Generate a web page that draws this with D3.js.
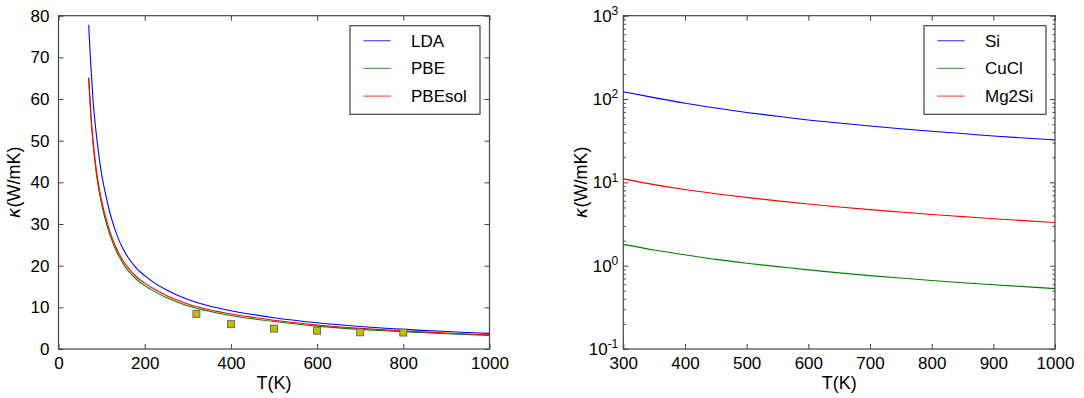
<!DOCTYPE html>
<html><head><meta charset="utf-8">
<script src="https://cdn.jsdelivr.net/npm/d3@7"></script>
<style>
body{margin:0;background:#fff;}
svg{display:block;font-family:"Liberation Sans",Arial,sans-serif;}
</style></head><body>
<svg id="c" width="1084" height="398"></svg>
<script>
// ---------- data: left panel (Si, functionals) ----------
const tempsA   = [70,75,80,85,90,100,110,120,130,140,150,160,180,200,225,250,275,300,350,400,450,500,600,700,800,900,1000];
const kappaLDA = [77.8,68,60,54.2,49.5,42,36.8,32.4,29.0,26.2,24.0,22.2,19.5,17.6,15.7,14.2,12.95,11.9,10.3,9.2,8.3,7.5,6.3,5.4,4.7,4.2,3.75];
const kappaPBE = [65,56,49.5,44.5,40.5,34.8,30.6,27.2,24.5,22.3,20.5,19.0,16.8,15.2,13.65,12.35,11.3,10.4,9.05,8.05,7.25,6.6,5.5,4.72,4.13,3.67,3.25];
const kappaPBEsol = [65.2,56.5,50.2,45.3,41.3,35.6,31.4,28.0,25.2,23.0,21.2,19.7,17.4,15.8,14.2,12.85,11.75,10.8,9.4,8.4,7.6,6.9,5.75,4.95,4.33,3.85,3.4];
const expT     = [320,400,500,600,700,800];
const expKappa = [8.4,5.95,4.9,4.4,4.0,3.95];
const seriesA  = ["LDA","PBE","PBEsol"];
const xTicksA  = [0,200,400,600,800,1000];
const yTicksA  = [0,10,20,30,40,50,60,70,80];

// ---------- data: right panel (materials, log scale) ----------
const tempsB     = [300,350,400,450,500,550,600,650,700,750,800,850,900,950,1000];
const kappaSi    = [122,104,89,78,69,62,56,51.5,47.5,44,41,38.5,36,34,32.3];
const kappaCuCl  = [1.80,1.54,1.35,1.19,1.07,0.975,0.89,0.82,0.76,0.71,0.665,0.625,0.59,0.56,0.53];
const kappaMg2Si = [11.0,9.4,8.2,7.3,6.6,6.0,5.5,5.07,4.7,4.4,4.12,3.88,3.66,3.47,3.3];
const seriesB    = ["Si","CuCl","Mg2Si"];
const xTicksB    = [300,400,500,600,700,800,900,1000];
const yDecadesB  = [-1,0,1,2,3];

const colors = ["#0000ff","#008000","#ff0000"];
const frameColor = "#444";
const svg = d3.select("#c");

function panel(o){
  const g = svg.append("g");
  const x = o.x, y = o.y;
  const [L,R] = x.range(), [B,T] = y.range();
  const line = d3.line().x(d=>x(d[0])).y(d=>y(d[1])).curve(d3.curveMonotoneX);
  o.series.forEach((s,i)=>{
    g.append("path").datum(o.temps.map((t,j)=>[t,s[j]]))
      .attr("fill","none").attr("stroke",colors[i]).attr("stroke-width",1.1).attr("d",line);
  });
  if(o.after) o.after(g);
  const bottom = d3.axisBottom(x).tickValues(o.xTicks).tickSizeInner(-5).tickSizeOuter(0).tickPadding(8).tickFormat(d3.format("d"));
  const top = d3.axisTop(x).tickValues(o.xTicks).tickSizeInner(-5).tickSizeOuter(0).tickFormat("");
  g.append("g").attr("transform",`translate(0,${B})`).call(bottom);
  g.append("g").attr("transform",`translate(0,${T})`).call(top);
  const gl = g.append("g").attr("transform",`translate(${L},0)`).call(o.leftAxis(d3.axisLeft(y)));
  g.append("g").attr("transform",`translate(${R},0)`).call(o.rightAxis(d3.axisRight(y)));
  if(o.minor){
    const mv = o.minor;
    g.append("g").attr("transform",`translate(${L},0)`).call(d3.axisLeft(y).tickValues(mv).tickSizeInner(-2.5).tickSizeOuter(0).tickFormat(""));
    g.append("g").attr("transform",`translate(${R},0)`).call(d3.axisRight(y).tickValues(mv).tickSizeInner(-2.5).tickSizeOuter(0).tickFormat(""));
  }
  g.selectAll(".domain").remove();
  g.selectAll(".tick line").attr("stroke",frameColor);
  g.selectAll(".tick text").attr("fill","#000").style("font-size","17px").style("font-family",'"Liberation Sans",Arial,sans-serif');
  if(o.labelY) o.labelY(gl);
  g.append("rect").attr("x",L).attr("y",T).attr("width",R-L).attr("height",B-T)
    .attr("fill","none").attr("stroke",frameColor).attr("stroke-width",1.2);
  g.append("text").attr("x",(L+R)/2).attr("y",B+40).attr("text-anchor","middle")
    .style("font-size","18px").text("T(K)");
  const yl = g.append("text").attr("transform",`translate(${o.ylabX},${(T+B)/2}) rotate(-90)`)
    .attr("text-anchor","middle").style("font-size","18px");
  yl.append("tspan").style("font-family",'"DejaVu Sans"').style("font-style","italic").text("κ");
  yl.append("tspan").text("(W/mK)");
  const lg = g.append("g");
  lg.append("rect").attr("x",o.leg.x).attr("y",T+10).attr("width",o.leg.w).attr("height",88.6)
    .attr("fill","#fff").attr("stroke",frameColor).attr("stroke-width",1.2);
  o.names.forEach((n,i)=>{
    const yy = T+25+i*27.7;
    lg.append("line").attr("x1",o.leg.x+13.3).attr("x2",o.leg.x+40.7).attr("y1",yy).attr("y2",yy)
      .attr("stroke",colors[i]).attr("stroke-width",1.1).attr("stroke-opacity",0.75);
    lg.append("text").attr("x",o.leg.x+o.leg.tx).attr("y",yy+6).style("font-size","17px").text(n);
  });
}

const xA = d3.scaleLinear().domain([0,1000]).range([58.5,489.5]);
const yA = d3.scaleLinear().domain([0,80]).range([349,15.7]);
panel({
  x:xA, y:yA, temps:tempsA, series:[kappaLDA,kappaPBE,kappaPBEsol], names:seriesA, xTicks:xTicksA,
  leftAxis:a=>a.tickValues(yTicksA).tickSizeInner(-5).tickSizeOuter(0).tickPadding(9).tickFormat(d3.format("d")),
  rightAxis:a=>a.tickValues(yTicksA).tickSizeInner(-5).tickSizeOuter(0).tickFormat(""),
  ylabX:20, leg:{x:350,w:130,tx:61},
  after:g=>{
    g.selectAll("rect.exp").data(expT.map((t,i)=>[t,expKappa[i]])).enter().append("rect").attr("class","exp")
      .attr("x",d=>xA(d[0])-3.5).attr("y",d=>yA(d[1])-3.5).attr("width",7).attr("height",7)
      .attr("fill","#bfbf00").attr("stroke","#555").attr("stroke-width",0.8);
  }
});

const xB = d3.scaleLinear().domain([300,1000]).range([623.3,1055]);
const yB = d3.scaleLog().domain([0.1,1000]).range([349,15.7]);
const majorB = yDecadesB.map(e=>Math.pow(10,e));
const minorB = [];
yDecadesB.slice(0,-1).forEach(e=>{for(let k=2;k<=9;k++) minorB.push(k*Math.pow(10,e));});
panel({
  x:xB, y:yB, temps:tempsB, series:[kappaSi,kappaCuCl,kappaMg2Si], names:seriesB, xTicks:xTicksB,
  leftAxis:a=>a.tickValues(majorB).tickSizeInner(-5).tickSizeOuter(0).tickPadding(9).tickFormat(""),
  rightAxis:a=>a.tickValues(majorB).tickSizeInner(-5).tickSizeOuter(0).tickFormat(""),
  minor:minorB, ylabX:587, leg:{x:924,w:122,tx:61},
  labelY:gl=>{
    gl.selectAll(".tick").each(function(d,i){
      const t = d3.select(this).append("text").attr("x",-5).attr("dy","0.32em")
        .attr("text-anchor","end").attr("fill","#000").style("font-size","17px");
      t.append("tspan").text("10");
      t.append("tspan").attr("dy","-0.55em").style("font-size","12px").text(String(yDecadesB[i]));
    });
  }
});
</script></body></html>
